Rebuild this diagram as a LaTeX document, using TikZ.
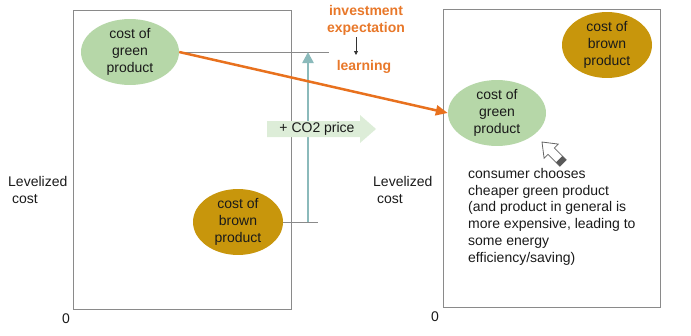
\documentclass[tikz,border=0pt]{standalone}
\usepackage{fontspec}
\setmainfont{Liberation Sans}
\usetikzlibrary{shapes.geometric,arrows.meta}
\definecolor{gfill}{HTML}{B6D7A8}
\definecolor{bfill}{HTML}{C8960C}
\definecolor{orng}{HTML}{E8711E}
\definecolor{otext}{HTML}{E8782A}
\definecolor{teal2}{HTML}{8BBABB}
\definecolor{boxgray}{HTML}{8A8A8A}
\definecolor{co2fill}{HTML}{DDEDD8}
\definecolor{txt}{HTML}{1A1A1A}
\tikzset{
  every node/.style={font=\fontsize{14}{16.8}\selectfont, text=txt},
  panel/.style={draw=boxgray, line width=1pt},
  greenell/.style={ellipse, fill=gfill, minimum width=98pt, minimum height=60pt, inner sep=0pt, align=center},
  brownell/.style={ellipse, fill=bfill, minimum width=90pt, minimum height=60pt, inner sep=0pt, align=center},
  guide/.style={draw=boxgray, line width=1pt},
  orangetxt/.style={text=otext, font=\fontsize{14}{16.8}\selectfont\bfseries, align=center},
  plain/.style={align=left, inner sep=0pt}
}
\begin{document}
\begin{tikzpicture}[x=1pt,y=-1pt]
\useasboundingbox (0,0) rectangle (691,335);
% panels
\draw[panel] (73,10) rectangle (291,309);
\draw[panel] (443,9) rectangle (660,307);
% axis labels
\node[plain, anchor=north west] (lv1) at (8,176) {Levelized\\\ cost};
\node[plain, anchor=north west] (lv2) at (373,176) {Levelized\\\ cost};
\node (z1) at (66,319) {0};
\node (z2) at (435,317) {0};
% ellipses
\node[greenell] (lg) at (130,52) {cost of\\green\\product};
\node[brownell] (lb) at (238,222) {cost of\\brown\\product};
\node[greenell] (rg) at (497,113) {cost of\\green\\product};
\node[brownell] (rb) at (607,45) {cost of\\brown\\product};
% guide lines
\coordinate (g1) at (329,52);
\coordinate (g2) at (318,222);
\coordinate (tb) at (308,222);
\coordinate (tt) at (308,52);
\draw[guide] (lg.east) -- (g1);
\draw[guide] (lb.east) -- (g2);
\draw[teal2, line width=2.5pt, -{Triangle[length=11pt,width=11pt]}] (tb) -- (tt);
% CO2 block arrow
\fill[co2fill] (267,121) -- (360,121) -- (360,115) -- (376,129) -- (360,143) -- (360,137) -- (267,137) -- cycle;
\node (co2) at (317,129) {+ CO2 price};
% orange arrow
\draw[orng, line width=2.5pt, -{Triangle[length=12pt,width=10pt]}] (lg.east) -- (rg.west);
% investment expectation / learning
\node[orangetxt] (inv) at (366,20) {investment\\expectation};
\node[orangetxt] (lrn) at (364,67) {learning};
\coordinate (sa1) at (356,37);
\coordinate (sa2) at (356,55);
\draw[draw=black!80, line width=0.8pt, -{Triangle[length=4pt,width=4pt]}] (sa1) -- (sa2);
% hollow pointer arrow
\filldraw[fill=white, draw=black!60, line width=0.8pt]
  (542,142) -- (558.3,144.1) -- (554.4,148.0) -- (566.2,159.8) -- (559.8,166.2) -- (548.0,154.4) -- (544.1,158.3) -- cycle;
\fill[black!65] (562.3,156.0) -- (566.2,159.8) -- (559.8,166.2) -- (556.0,162.3) -- cycle;
% consumer text
\node[plain, anchor=north west] (cons) at (468,168) {consumer chooses\\cheaper green product\\(and product in general is\\more expensive, leading to\\some energy\\efficiency/saving)};
\end{tikzpicture}
\end{document}
